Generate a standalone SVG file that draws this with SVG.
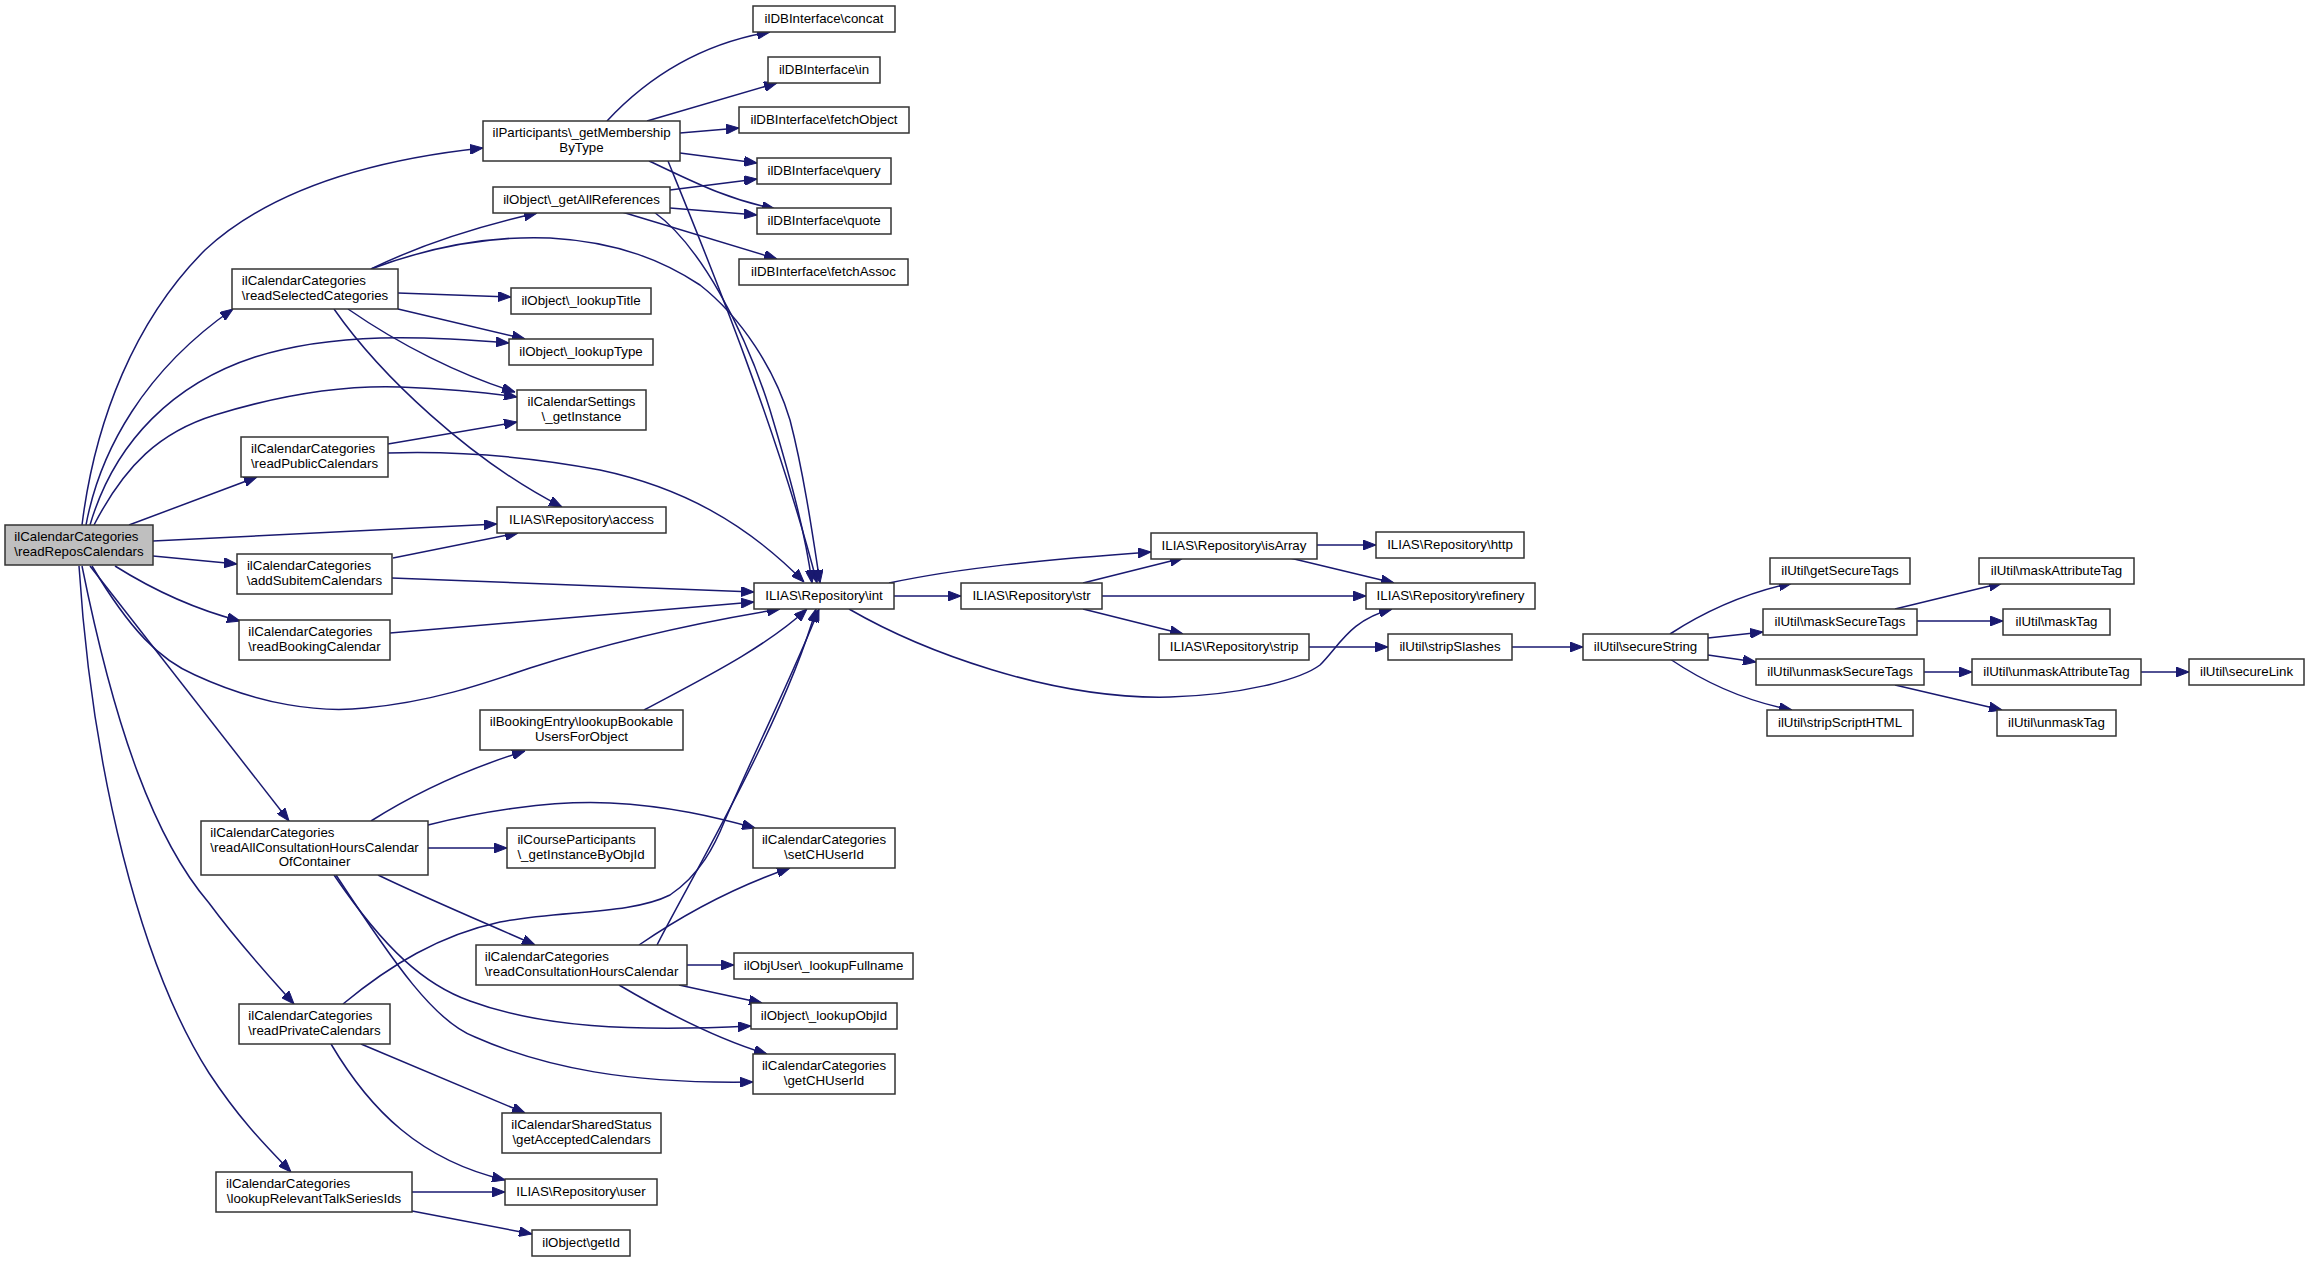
<svg xmlns="http://www.w3.org/2000/svg" width="2309" height="1261" viewBox="0 0 2309 1261">
<style>
.n rect{fill:#fff;stroke:#333;stroke-width:1.5}
.n text{font-family:"Liberation Sans",Arial,sans-serif;font-size:13.3px;fill:#000}
.m{text-anchor:middle}
#edges path{fill:none;stroke:#191970;stroke-width:1.5;marker-end:url(#ah)}
</style>
<defs>
<marker id="ah" markerUnits="userSpaceOnUse" markerWidth="13" markerHeight="10" viewBox="0 0 13 10" refX="13" refY="5" orient="auto">
<path d="M0,0 L13,5 L0,10 z" fill="#191970" stroke="#191970"/>
</marker>
</defs>
<rect width="2309" height="1261" fill="#fff"/>
<g id="edges">
<path d="M82,525 C95,420 135,320 205,250 C270,190 370,160 483,148"/>
<path d="M86,525 C100,450 145,370 233,309"/>
<path d="M90,525 C115,440 175,383 255,357 C335,332 425,336 509,343"/>
<path d="M94,525 C125,465 160,432 215,415 C280,395 340,385 400,387 C450,389 490,393 517,397"/>
<path d="M129,525 L257,477"/>
<path d="M153,541 L497,524"/>
<path d="M153,556 L237,564"/>
<path d="M115,566 C150,588 190,608 240,621"/>
<path d="M92,566 C130,630 160,660 195,675 C260,705 320,713 365,708 C430,702 480,685 530,668 C610,642 700,622 780,609"/>
<path d="M90,566 L289,821"/>
<path d="M82,566 C115,730 155,840 209,903 C240,945 268,975 294,1004"/>
<path d="M79,566 C92,770 140,965 209,1073 C240,1120 265,1145 291,1172"/>
<path d="M607,121 C650,75 705,43 770,32"/>
<path d="M647,121 L777,83"/>
<path d="M680,133 L739,128"/>
<path d="M680,153 L757,163"/>
<path d="M649,161 C690,180 725,199 775,209"/>
<path d="M668,161 C700,240 775,420 817,583"/>
<path d="M670,190 L757,179"/>
<path d="M670,208 L757,215"/>
<path d="M622,212 L777,259"/>
<path d="M654,212 C700,245 745,330 770,410 C788,470 805,530 812,583"/>
<path d="M371,269 C420,245 480,226 537,213"/>
<path d="M371,269 C440,243 500,236 550,238 C620,242 665,262 700,285 C742,318 775,370 790,420 C803,470 812,530 820,583"/>
<path d="M398,293 L511,297"/>
<path d="M398,309 L525,339"/>
<path d="M348,309 C400,345 460,375 515,392"/>
<path d="M334,309 C380,375 470,460 562,507"/>
<path d="M388,444 L517,422"/>
<path d="M388,453 C450,451 520,455 600,470 C680,487 745,522 804,582"/>
<path d="M393,558 L518,533"/>
<path d="M392,578 L754,592"/>
<path d="M390,633 L754,602"/>
<path d="M644,710 C700,680 765,648 807,609"/>
<path d="M371,821 C420,790 470,768 525,751"/>
<path d="M428,825 C480,812 550,800 610,803 C670,806 715,817 755,828"/>
<path d="M428,848 L507,848"/>
<path d="M378,875 C430,900 490,925 535,945"/>
<path d="M334,875 C385,950 425,985 470,1001 C540,1027 630,1032 751,1026"/>
<path d="M336,875 C395,965 435,1022 475,1037 C545,1068 630,1084 753,1082"/>
<path d="M639,945 C690,910 740,885 790,868"/>
<path d="M657,945 C690,880 785,720 816,609"/>
<path d="M687,965 L734,965"/>
<path d="M679,985 L762,1003"/>
<path d="M619,985 C670,1015 720,1040 767,1054"/>
<path d="M343,1004 C390,965 440,935 500,922 C560,910 630,915 670,895 C700,875 715,845 725,820 C760,740 795,670 819,609"/>
<path d="M361,1044 L525,1113"/>
<path d="M331,1044 C370,1110 420,1160 505,1180"/>
<path d="M412,1192 L505,1192"/>
<path d="M412,1211 L532,1234"/>
<path d="M894,596 L961,596"/>
<path d="M889,583 C960,568 1040,560 1151,552"/>
<path d="M849,609 C920,650 1050,700 1170,697 C1240,695 1300,680 1320,665 C1340,645 1350,620 1392,609"/>
<path d="M1083,583 L1183,558"/>
<path d="M1102,596 L1366,596"/>
<path d="M1083,609 L1183,634"/>
<path d="M1317,545 L1376,545"/>
<path d="M1290,558 L1394,583"/>
<path d="M1309,647 L1388,647"/>
<path d="M1512,647 L1583,647"/>
<path d="M1670,634 C1710,608 1750,592 1792,583"/>
<path d="M1708,638 L1763,632"/>
<path d="M1708,655 L1756,662"/>
<path d="M1670,659 C1710,686 1750,702 1792,710"/>
<path d="M1895,609 L2002,583"/>
<path d="M1917,621 L2003,621"/>
<path d="M1924,672 L1972,672"/>
<path d="M1895,685 L2002,710"/>
<path d="M2141,672 L2189,672"/>
</g>
<g id="n0" class="n"><rect x="5" y="525" width="148" height="40" style="fill:#bfbfbf"/><text x="14.3" y="541">ilCalendarCategories</text><text class="m" x="79" y="555.5">\readReposCalendars</text></g>
<g id="n1" class="n"><rect x="483" y="121" width="197" height="40"/><text x="492.5" y="137">ilParticipants\_getMembership</text><text class="m" x="581.5" y="151.5">ByType</text></g>
<g id="n2" class="n"><rect x="493" y="187" width="177" height="26"/><text class="m" x="581.5" y="204">ilObject\_getAllReferences</text></g>
<g id="n3" class="n"><rect x="232" y="269" width="166" height="40"/><text x="241.8" y="285">ilCalendarCategories</text><text class="m" x="315" y="299.5">\readSelectedCategories</text></g>
<g id="n4" class="n"><rect x="511" y="288" width="140" height="26"/><text class="m" x="581" y="305">ilObject\_lookupTitle</text></g>
<g id="n5" class="n"><rect x="509" y="339" width="144" height="26"/><text class="m" x="581" y="356">ilObject\_lookupType</text></g>
<g id="n6" class="n"><rect x="517" y="390" width="129" height="40"/><text class="m" x="581.5" y="406">ilCalendarSettings</text><text class="m" x="581.5" y="420.5">\_getInstance</text></g>
<g id="n7" class="n"><rect x="241" y="437" width="147" height="40"/><text x="251" y="453">ilCalendarCategories</text><text class="m" x="314.5" y="467.5">\readPublicCalendars</text></g>
<g id="n8" class="n"><rect x="497" y="507" width="169" height="26"/><text class="m" x="581.5" y="524">ILIAS\Repository\access</text></g>
<g id="n9" class="n"><rect x="237" y="554" width="155" height="40"/><text x="246.9" y="570">ilCalendarCategories</text><text class="m" x="314.5" y="584.5">\addSubitemCalendars</text></g>
<g id="n10" class="n"><rect x="239" y="620" width="151" height="40"/><text x="248.3" y="636">ilCalendarCategories</text><text class="m" x="314.5" y="650.5">\readBookingCalendar</text></g>
<g id="n11" class="n"><rect x="480" y="710" width="203" height="40"/><text class="m" x="581.5" y="726">ilBookingEntry\lookupBookable</text><text class="m" x="581.5" y="740.5">UsersForObject</text></g>
<g id="n12" class="n"><rect x="201" y="821" width="227" height="54"/><text x="210.3" y="837">ilCalendarCategories</text><text x="210.3" y="851.5">\readAllConsultationHoursCalendar</text><text class="m" x="314.5" y="866">OfContainer</text></g>
<g id="n13" class="n"><rect x="507" y="828" width="148" height="40"/><text x="517.4" y="844">ilCourseParticipants</text><text class="m" x="581" y="858.5">\_getInstanceByObjId</text></g>
<g id="n14" class="n"><rect x="476" y="945" width="211" height="40"/><text x="484.7" y="961">ilCalendarCategories</text><text class="m" x="581.5" y="975.5">\readConsultationHoursCalendar</text></g>
<g id="n15" class="n"><rect x="239" y="1004" width="151" height="40"/><text x="248.3" y="1020">ilCalendarCategories</text><text class="m" x="314.5" y="1034.5">\readPrivateCalendars</text></g>
<g id="n16" class="n"><rect x="502" y="1113" width="159" height="40"/><text x="511.3" y="1129">ilCalendarSharedStatus</text><text class="m" x="581.5" y="1143.5">\getAcceptedCalendars</text></g>
<g id="n17" class="n"><rect x="216" y="1172" width="196" height="40"/><text x="226" y="1188">ilCalendarCategories</text><text class="m" x="314" y="1202.5">\lookupRelevantTalkSeriesIds</text></g>
<g id="n18" class="n"><rect x="505" y="1179" width="152" height="26"/><text class="m" x="581" y="1196">ILIAS\Repository\user</text></g>
<g id="n19" class="n"><rect x="532" y="1230" width="98" height="26"/><text class="m" x="581" y="1247">ilObject\getId</text></g>
<g id="n20" class="n"><rect x="753" y="6" width="142" height="26"/><text class="m" x="824" y="23">ilDBInterface\concat</text></g>
<g id="n21" class="n"><rect x="768" y="57" width="112" height="26"/><text class="m" x="824" y="74">ilDBInterface\in</text></g>
<g id="n22" class="n"><rect x="739" y="107" width="170" height="26"/><text class="m" x="824" y="124">ilDBInterface\fetchObject</text></g>
<g id="n23" class="n"><rect x="757" y="158" width="134" height="26"/><text class="m" x="824" y="175">ilDBInterface\query</text></g>
<g id="n24" class="n"><rect x="757" y="208" width="134" height="26"/><text class="m" x="824" y="225">ilDBInterface\quote</text></g>
<g id="n25" class="n"><rect x="739" y="259" width="169" height="26"/><text class="m" x="823.5" y="276">ilDBInterface\fetchAssoc</text></g>
<g id="n26" class="n"><rect x="754" y="583" width="140" height="26"/><text class="m" x="824" y="600">ILIAS\Repository\int</text></g>
<g id="n27" class="n"><rect x="961" y="583" width="141" height="26"/><text class="m" x="1031.5" y="600">ILIAS\Repository\str</text></g>
<g id="n28" class="n"><rect x="1151" y="533" width="166" height="26"/><text class="m" x="1234" y="550">ILIAS\Repository\isArray</text></g>
<g id="n29" class="n"><rect x="1376" y="532" width="148" height="26"/><text class="m" x="1450" y="549">ILIAS\Repository\http</text></g>
<g id="n30" class="n"><rect x="1366" y="583" width="169" height="26"/><text class="m" x="1450.5" y="600">ILIAS\Repository\refinery</text></g>
<g id="n31" class="n"><rect x="1159" y="634" width="150" height="26"/><text class="m" x="1234" y="651">ILIAS\Repository\strip</text></g>
<g id="n32" class="n"><rect x="1388" y="634" width="124" height="26"/><text class="m" x="1450" y="651">ilUtil\stripSlashes</text></g>
<g id="n33" class="n"><rect x="1583" y="634" width="125" height="26"/><text class="m" x="1645.5" y="651">ilUtil\secureString</text></g>
<g id="n34" class="n"><rect x="1770" y="558" width="140" height="26"/><text class="m" x="1840" y="575">ilUtil\getSecureTags</text></g>
<g id="n35" class="n"><rect x="1763" y="609" width="154" height="26"/><text class="m" x="1840" y="626">ilUtil\maskSecureTags</text></g>
<g id="n36" class="n"><rect x="1756" y="659" width="168" height="26"/><text class="m" x="1840" y="676">ilUtil\unmaskSecureTags</text></g>
<g id="n37" class="n"><rect x="1767" y="710" width="146" height="26"/><text class="m" x="1840" y="727">ilUtil\stripScriptHTML</text></g>
<g id="n38" class="n"><rect x="1979" y="558" width="155" height="26"/><text class="m" x="2056.5" y="575">ilUtil\maskAttributeTag</text></g>
<g id="n39" class="n"><rect x="2003" y="609" width="107" height="26"/><text class="m" x="2056.5" y="626">ilUtil\maskTag</text></g>
<g id="n40" class="n"><rect x="1972" y="659" width="169" height="26"/><text class="m" x="2056.5" y="676">ilUtil\unmaskAttributeTag</text></g>
<g id="n41" class="n"><rect x="2189" y="659" width="115" height="26"/><text class="m" x="2246.5" y="676">ilUtil\secureLink</text></g>
<g id="n42" class="n"><rect x="1997" y="710" width="119" height="26"/><text class="m" x="2056.5" y="727">ilUtil\unmaskTag</text></g>
<g id="n43" class="n"><rect x="753" y="828" width="142" height="40"/><text class="m" x="824" y="844">ilCalendarCategories</text><text class="m" x="824" y="858.5">\setCHUserId</text></g>
<g id="n44" class="n"><rect x="734" y="953" width="179" height="26"/><text class="m" x="823.5" y="970">ilObjUser\_lookupFullname</text></g>
<g id="n45" class="n"><rect x="751" y="1003" width="146" height="26"/><text class="m" x="824" y="1020">ilObject\_lookupObjId</text></g>
<g id="n46" class="n"><rect x="753" y="1054" width="142" height="40"/><text class="m" x="824" y="1070">ilCalendarCategories</text><text class="m" x="824" y="1084.5">\getCHUserId</text></g>
</svg>
